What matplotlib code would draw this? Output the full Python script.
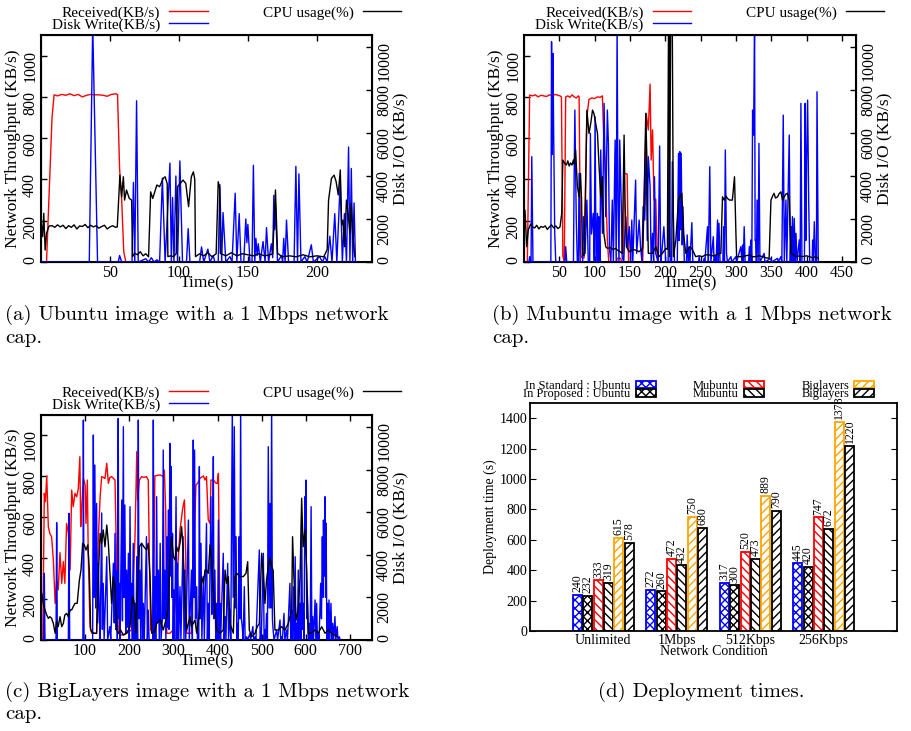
import numpy as np
import matplotlib
matplotlib.use('Agg')
import matplotlib.pyplot as plt

plt.rcParams['font.family'] = ['Liberation Serif', 'DejaVu Serif']
plt.rcParams['hatch.linewidth'] = 1.0

# ---- (a) Ubuntu, 1 Mbps : [time(s), value] ----
a_recv = np.array([
    (0, 0), (3, 0), (4, 0), (8, 700), (9.5, 810), (12, 805), (15, 812), (18, 808), (21, 815),
    (24, 806), (27, 812), (30, 800), (33, 808), (36, 812), (39, 810), (42, 810), (45, 808),
    (48, 803), (51, 812), (54, 815), (55.5, 812), (57, 450), (58.5, 300), (60, 50), (61.5, 0),
    (100, 0), (150, 0), (200, 0), (227, 0)])
a_disk = np.array([
    (0, 0), (35, 0), (37.5, 11000), (41, 0), (56, 0), (57, 300), (58.5, 0), (66, 0), (67, 3700),
    (68, 0), (69.3, 7500), (70.5, 0), (76, 150), (78, 0), (80, 200), (82, 0), (84, 100), (86, 0),
    (88, 3900), (90, 0), (93.5, 4600), (94.5, 0), (95.4, 3000), (96.4, 0), (97.8, 4000), (99, 0),
    (100.7, 4700), (102.6, 0), (105.5, 0), (106.7, 1550), (108, 0), (115, 0), (116.4, 700),
    (118, 0), (121, 600), (122.5, 0), (124.9, 300), (126, 0), (128.5, 0), (129.7, 3600), (131, 0),
    (132, 2300), (134, 0), (137, 250), (138.5, 0), (140.8, 3200), (142, 0), (143.7, 2250),
    (145, 0), (147, 0), (148.5, 2000), (149.3, 900), (150, 1750), (151.5, 0), (153, 0),
    (154, 4500), (155, 0), (155.8, 1100), (156.7, 300), (157.5, 850), (159, 0), (161, 950),
    (162.5, 0), (163.5, 1600), (165, 0), (167, 850), (168, 200), (168.8, 3100), (169.4, 1500),
    (170, 2600), (171.5, 0), (174.4, 300), (175.2, 0), (176, 1100), (177, 0), (178, 1950),
    (179.5, 0), (183.5, 0), (184.8, 4450), (186, 0), (187, 4100), (188.5, 0), (191.3, 250),
    (193, 0), (196, 800), (197.5, 0), (202, 250), (204, 0), (205.8, 250), (207.5, 0),
    (209.4, 1200), (211, 0), (213, 2250), (214.5, 0), (217, 3800), (218.5, 0), (220, 2250),
    (221.5, 0), (223, 5350), (224, 0), (225, 4350), (226, 0), (227, 2750), (228, 0)])
a_cpu = np.array([
    (0, 203), (1.2, 123), (2, 236), (3, 58), (4, 139), (5.8, 174), (8, 176), (10, 168), (12, 180),
    (14, 170), (16, 178), (18, 162), (20, 176), (22, 168), (24, 180), (26, 160), (28, 175),
    (30, 172), (32, 182), (34, 166), (36, 178), (38, 170), (40, 176), (42, 164), (44, 172),
    (46, 178), (48, 160), (50, 170), (52, 176), (54, 168), (55.3, 170), (57.2, 421), (58.5, 316),
    (59.7, 413), (60.6, 300), (62, 349), (64, 308), (65.7, 300), (66.4, 26), (68, 42), (70, 35),
    (72, 50), (74, 30), (76, 40), (78, 25), (79.5, 340), (81, 308), (84, 373), (86, 365),
    (88.6, 405), (90, 413), (91.5, 380), (92, 26), (94, 30), (96, 26), (98, 40), (99, 365),
    (101, 381), (103, 397), (105, 380), (107, 268), (109, 413), (110.5, 437), (111.5, 400),
    (112, 26), (115, 40), (118, 30), (121, 45), (124, 25), (127, 40), (128.5, 389), (129.5, 360),
    (130, 42), (134, 30), (138, 45), (142, 30), (146, 40), (150, 35), (154, 30), (158, 40),
    (162, 30), (166, 35), (168, 40), (170, 349), (171.5, 42), (175, 25), (180, 30), (185, 25),
    (190, 35), (195, 25), (200, 30), (205, 25), (207.5, 60), (208.5, 300), (210.6, 405),
    (212.5, 421), (214, 389), (215.5, 325), (217, 446), (218, 179), (219, 203), (220, 74),
    (221.5, 300), (222.7, 236), (224, 139), (225, 284), (226, 139), (227.5, 26)])

# ---- (b) Mubuntu, 1 Mbps ----
b_recv = np.array([
    (0, 0), (3, 0), (4.7, 0), (8, 809), (12, 805), (16, 810), (20, 800), (24, 808), (28, 805),
    (32, 802), (36, 810), (40, 806), (44, 812), (48, 808), (51, 805), (53, 800), (55, 30), (57, 0),
    (59, 800), (62, 805), (65, 798), (68, 810), (71, 800), (74, 795), (77, 805), (78, 800),
    (80, 42), (82, 20), (85, 20), (89, 704), (92, 788), (96, 795), (100, 792), (104, 800),
    (108, 798), (111, 805), (113, 591), (114.5, 500), (118, 107), (120, 0), (131, 0), (132, 18),
    (137, 18), (138, 0), (141, 0), (142, 430), (146, 426), (148, 0), (168, 0), (170, 300),
    (173, 720), (176, 640), (178.5, 862), (180, 494), (182, 640), (184, 300), (186.5, 305),
    (189, 0), (250, 0), (300, 0), (350, 0), (417, 0)])
b_disk = np.array([
    (0, 0), (7, 0), (8, 250), (9, 0), (10, 0), (11, 4900), (12.7, 0), (38, 0), (39, 10245),
    (40, 5000), (41, 9700), (42, 5983), (43.5, 1333), (45, 0), (58, 0), (59, 713), (60.5, 0),
    (70, 0), (71, 3968), (72, 7068), (74, 1953), (75.5, 0), (77, 0), (78, 4123), (79.5, 0),
    (83, 0), (84, 2108), (86.5, 400), (89, 2883), (91, 0), (93, 0), (94, 5983), (95.5, 1300),
    (98, 2263), (99.5, 0), (100.6, 6758), (102, 0), (104, 2263), (105, 0), (106, 2108),
    (107.5, 0), (108.6, 5208), (111, 1333), (113.4, 7378), (115.7, 2108), (118, 7068),
    (119.5, 5518), (121, 600), (123, 0), (125, 2883), (126.5, 0), (129, 5673), (130.5, 0),
    (131.8, 11000), (133, 2883), (134.5, 0), (135.5, 5673), (138, 2263), (139, 250), (141, 0),
    (144, 2108), (146.4, 700), (149, 1643), (151, 0), (152.6, 1953), (154, 0), (156, 1953),
    (158, 3813), (159.5, 400), (163, 1953), (165, 700), (167, 0), (168.6, 2573), (171, 1953),
    (173, 5208), (174.5, 1000), (176, 4898), (178.5, 3503), (180, 0), (182, 1333), (183.5, 0),
    (184.7, 3968), (186.5, 400), (190, 0), (192, 5394), (193.5, 0), (195, 400), (198, 1643),
    (200.7, 0), (204, 0), (205.5, 5440), (207, 0), (209, 0), (210, 4665), (211.6, 1953),
    (213, 0), (217, 0), (218.7, 5053), (219.5, 1000), (220.6, 5130), (221.5, 1500),
    (222.5, 5053), (224, 800), (225, 2573), (227, 0), (230, 0), (231, 1260), (232.5, 0),
    (233.8, 635), (235, 0), (237.6, 1829), (239, 0), (247, 0), (248, 250), (249, 0), (254, 0),
    (255, 170), (256, 0), (259.8, 1643), (261, 0), (263, 4433), (264.5, 0), (268, 1178),
    (269, 0), (270.6, 250), (272, 0), (274, 1953), (275, 0), (276, 1798), (277.5, 0),
    (281.5, 0), (282.5, 1643), (283.8, 0), (285, 5208), (286.7, 400), (288, 0), (293, 250),
    (294, 0), (300, 250), (301, 0), (307, 713), (308.5, 0), (309.4, 790), (310.5, 0),
    (311.7, 1643), (313, 0), (318, 0), (319, 713), (320, 0), (321, 1023), (322.5, 0),
    (323.6, 7068), (325, 5905), (326.4, 11000), (327.2, 1000), (328, 1023), (329, 0),
    (330, 2883), (331.5, 0), (332.6, 5518), (334, 0), (340, 400), (341, 0), (349.6, 170),
    (350.5, 0), (359, 170), (360, 0), (363.7, 250), (365, 0), (367, 6835), (368.5, 0),
    (370.8, 2883), (372, 0), (375.5, 5905), (377, 0), (378, 1643), (379, 0), (380, 2108),
    (381.5, 0), (382.6, 2030), (384, 0), (385, 1333), (386.5, 0), (389.7, 1023), (391, 0),
    (392, 7378), (393.5, 0), (397, 0), (398, 7378), (399, 1000), (400, 4588), (401.5, 7533),
    (403, 2883), (404.5, 0), (408, 0), (408.6, 1023), (409.5, 0), (411, 1876), (412.5, 0),
    (414, 0), (414.8, 7920), (416.6, 0)])
b_cpu = np.array([
    (0, 107), (1.4, 252), (3.8, 74), (6, 155), (9.4, 184), (12, 170), (15, 165), (18, 178),
    (21, 160), (24, 172), (27, 168), (30, 175), (33, 158), (36, 170), (39, 180), (42, 165),
    (45, 175), (48, 162), (51, 170), (53.4, 236), (55, 494), (57.6, 478), (60, 470), (62, 490),
    (64, 465), (66, 480), (68, 470), (70, 495), (71, 475), (73, 543), (75.6, 365), (78, 316),
    (80, 429), (81.5, 300), (82.6, 40), (85, 30), (87, 300), (89, 736), (92, 623), (94.5, 672),
    (97, 736), (99, 720), (101.5, 672), (104, 623), (106.3, 462), (108.6, 316), (111, 413),
    (113, 139), (115.7, 74), (118, 66), (122, 70), (126, 60), (130, 66), (132, 58), (136, 50),
    (139, 42), (141.7, 615), (143, 300), (145, 74), (149, 50), (154, 60), (158, 58), (163, 50),
    (168, 66), (170, 300), (172.4, 720), (174, 494), (175, 220), (176, 42), (182, 42),
    (186.6, 74), (191, 26), (196, 42), (200.7, 66), (203, 61), (204.5, 1100), (205.5, 1100),
    (206, 26), (207.5, 1100), (210, 1100), (211.6, 26), (215, 107), (218.7, 300), (220.6, 316),
    (223.4, 333), (225.8, 139), (229, 42), (234, 74), (237.6, 66), (243, 26), (248, 30),
    (252.7, 26), (257, 35), (262, 34), (267, 30), (271.6, 34), (275, 40), (278.7, 42),
    (281, 316), (283.4, 300), (286, 320), (288, 308), (291, 300), (295, 300), (298, 413),
    (300, 139), (301, 26), (309, 26), (314, 30), (319, 34), (323, 25), (328, 26), (333, 30),
    (337.7, 26), (343, 20), (347, 18), (349.6, 300), (352, 320), (354, 333), (356, 310),
    (359, 316), (361, 330), (363.7, 340), (366, 300), (368.4, 316), (371, 330), (373, 333),
    (375.5, 300), (378, 42), (385, 26), (390, 30), (394.4, 26), (400, 30), (404, 26), (409, 20),
    (413, 26), (416.6, 18)])

# ---- (c) BigLayers, 1 Mbps ----
c_recv = np.array([
    (0, 0), (4, 0), (7.5, 717), (10, 676), (13, 802), (16.6, 554), (20, 521), (24, 505),
    (28, 391), (32, 179), (35.5, 293), (39, 245), (43, 427), (47, 277), (50.6, 383), (54, 277),
    (58, 570), (62, 521), (66, 342), (69.5, 733), (73, 652), (77, 717), (81, 700), (84.6, 741),
    (88, 896), (90, 554), (92, 636), (96, 790), (100, 758), (102, 570), (105, 782), (107, 424),
    (111, 65), (115, 33), (126, 33), (130, 505), (134, 700), (137.5, 799), (141, 795),
    (145, 790), (149, 864), (152.6, 766), (156, 795), (160, 799), (164, 790), (167.7, 782),
    (171.5, 342), (175, 33), (183, 24), (194, 33), (205, 49), (213, 505), (217, 921), (219, 685),
    (223, 782), (228, 799), (233, 795), (239, 799), (243, 782), (245.5, 408), (248.5, 49),
    (254.5, 33), (258, 802), (264, 805), (270, 807), (277, 799), (279.5, 831), (282.5, 636),
    (285, 33), (292, 33), (300, 49), (307, 260), (315, 538), (321, 643), (325, 685), (328, 408),
    (330, 33), (341, 33), (351, 758), (355, 766), (360, 790), (368, 802), (371.6, 782),
    (375, 799), (379, 587), (383, 570), (385, 782), (390.5, 782), (396.5, 766), (399.5, 766),
    (402, 815), (405.6, 33), (408, 0), (500, 0), (600, 0), (672, 0)])
c_disk = np.array([
    (0, 0), (6, 0), (7.5, 3128), (9, 0), (34, 0), (35.5, 5505), (37, 0), (62, 0), (63.4, 5943),
    (65, 0), (95, 0), (96, 10322), (97.5, 0), (117, 0), (118.6, 9619), (120, 2000), (122, 8211),
    (124, 1500), (126, 6412), (128, 800), (130, 3600), (132, 1400), (134, 0), (137.5, 5960),
    (139, 500), (141, 2660), (143, 0), (149, 3910), (151, 0), (156, 630), (158, 0), (164, 3600),
    (166, 800), (167.7, 5005), (169.5, 500), (171.5, 3280), (173, 0), (175, 10400),
    (176.3, 1000), (177.5, 2660), (179, 0), (183, 6570), (184.5, 900), (186.6, 10009),
    (188, 2000), (190, 6334), (192, 300), (194, 3280), (196, 600), (198, 4070), (200, 0),
    (201.7, 6256), (203.5, 1000), (205.4, 2660), (207, 0), (209, 4535), (211, 0), (213, 1720),
    (215, 0), (217, 3910), (218.8, 0), (220.5, 10322), (222, 1000), (224, 3280), (226, 0),
    (228, 4535), (230, 0), (232, 1720), (234, 0), (239, 4850), (241, 0), (243, 1400), (245, 0),
    (253, 0), (254.5, 10322), (256, 0), (258, 2970), (260, 0), (262, 6725), (264, 800),
    (266, 3280), (268, 0), (270, 4535), (272, 0), (275, 1000), (277, 8914), (279, 1000),
    (281, 3280), (283, 0), (285, 4848), (286.8, 600), (288.5, 6100), (290, 500), (292, 9228),
    (293.5, 3000), (295, 8133), (296.5, 2000), (298, 5000), (299.5, 0), (301, 2350), (303, 0),
    (306, 6725), (308, 0), (310, 3600), (312, 0), (315, 2500), (317, 0), (322, 4850), (324, 0),
    (326, 3280), (328, 0), (334, 5630), (336, 0), (341, 3280), (343, 0), (345, 9384),
    (346.5, 2000), (348, 8914), (350, 1000), (352.7, 2500), (354.5, 0), (357.5, 0),
    (358.8, 8133), (360.5, 1000), (362.5, 4535), (364.5, 0), (368, 2970), (370, 0), (375, 5475),
    (377, 0), (379, 1720), (381, 0), (385, 6725), (387, 1200), (388.5, 4000), (390.5, 8602),
    (392, 1000), (394, 3280), (396, 0), (398, 1720), (400, 0), (402, 5630), (404, 0),
    (405.6, 1720), (407, 0), (413, 4070), (415, 0), (417, 1100), (419, 0), (423, 3597),
    (425, 0), (428, 1400), (430, 0), (433.5, 11000), (435.5, 2000), (438, 10009), (440, 1500),
    (442, 4848), (443.8, 0), (445.6, 780), (447, 0), (449, 4848), (450.5, 1000), (452.4, 11000),
    (454, 1000), (456, 630), (458, 0), (460.7, 2500), (462.5, 0), (466, 150), (468, 0),
    (473.5, 300), (475, 0), (480, 630), (482, 0), (485, 150), (487, 0), (494.7, 4223),
    (496.5, 0), (497.7, 150), (499, 0), (503.8, 4070), (505.5, 0), (507.5, 470), (509, 0),
    (511, 1250), (513, 0), (515, 9071), (517, 1500), (519, 6412), (520.8, 1500), (522.6, 11000),
    (524.3, 1000), (526, 470), (528, 0), (534, 470), (536, 0), (541.6, 940), (543, 0),
    (545, 150), (547, 0), (550.6, 1250), (552.5, 0), (556.6, 470), (558.5, 0), (564, 2660),
    (566, 0), (568, 1400), (570, 0), (571.8, 2500), (574, 0), (576, 3910), (577.5, 0),
    (579, 780), (581, 0), (583, 3280), (585, 0), (587, 1720), (588.8, 0), (590.6, 5787),
    (592.3, 500), (594, 1720), (596, 0), (598, 6725), (599.2, 5000), (600.4, 7507),
    (602, 1000), (603.5, 2035), (605.5, 0), (608, 780), (610, 0), (612, 6256), (613.8, 0),
    (615.6, 1100), (617.5, 0), (621, 1880), (622.8, 0), (624.6, 1720), (626.3, 0), (628, 300),
    (630, 0), (633.7, 2660), (635.5, 1000), (637.5, 4848), (638.8, 2000), (640, 5630),
    (641.8, 3000), (643.5, 6725), (644.8, 2000), (646, 5475), (647.8, 0), (649.5, 1720),
    (651, 0), (652.6, 1880), (654.5, 0), (657, 1720), (659, 0), (661, 780), (663, 0),
    (666, 1100), (668, 0), (671, 630), (673, 0), (676, 150), (678, 0)])
c_cpu = np.array([
    (0, 179), (2, 228), (5, 179), (9, 147), (13, 122), (16.6, 106), (20, 114), (24, 106),
    (28, 81), (32, 33), (35.5, 90), (39, 65), (43, 114), (47, 65), (50.6, 81), (54, 122),
    (58, 130), (62, 114), (66, 147), (69.5, 147), (73, 163), (77, 179), (82, 179), (87, 293),
    (90.6, 342), (94.4, 473), (98, 465), (102, 440), (106, 465), (109.5, 342), (112.5, 49),
    (118.6, 33), (126, 33), (130.7, 358), (134, 521), (137.5, 473), (141, 538), (145, 456),
    (149, 562), (152.6, 473), (156, 342), (160, 179), (164, 310), (167.7, 261), (171.5, 49),
    (175, 33), (180.5, 49), (186.6, 24), (194, 33), (201.7, 65), (207.7, 212), (211.5, 179),
    (215, 33), (219, 261), (223, 456), (228, 473), (233, 456), (239, 440), (243, 473),
    (247, 310), (250.7, 33), (258, 41), (262, 81), (270, 98), (277, 49), (285, 114),
    (288.5, 179), (292, 408), (296, 505), (300, 408), (303.6, 391), (307, 456), (311, 432),
    (315, 473), (318.6, 554), (322, 440), (326, 212), (330, 49), (337.6, 114), (341, 65),
    (345, 81), (349, 98), (352.7, 33), (358.8, 130), (364, 310), (368, 277), (371.6, 342),
    (375, 342), (379, 326), (383, 465), (386.7, 391), (390.5, 245), (394, 147), (398, 49),
    (405.6, 33), (413, 49), (417, 342), (420.7, 277), (424.5, 310), (428, 81), (435.8, 33),
    (439.6, 310), (443.3, 326), (451, 310), (458.5, 310), (464.5, 326), (468.3, 383), (472, 49),
    (477.3, 16), (485, 33), (490, 65), (494.7, 81), (500, 424), (503.8, 326), (507.5, 179),
    (511, 293), (515, 358), (519, 400), (522.6, 358), (526, 342), (530, 49), (537.7, 49),
    (545, 65), (552.9, 49), (560.4, 81), (568, 147), (570, 505), (573, 310), (578, 98),
    (583, 147), (587, 310), (590.6, 693), (594, 456), (598, 538), (602, 342), (605.7, 33),
    (613, 33), (621, 49), (628, 33), (636, 65), (643.5, 33), (651, 49), (658.6, 33), (666, 24),
    (671, 16)])

# ---- (d) deployment times ----
conditions = ['Unlimited', '1Mbps', '512Kbps', '256Kbps']
std_ubuntu = [240, 272, 317, 445]
prop_ubuntu = [232, 260, 300, 420]
std_mubuntu = [333, 472, 520, 747]
prop_mubuntu = [319, 432, 473, 672]
std_big = [615, 750, 889, 1378]
prop_big = [578, 680, 790, 1220]

W, H = 912, 731
fig = plt.figure(figsize=(W / 100, H / 100), dpi=100)


def px_rect(x0, y0, x1, y1):
    return [x0 / W, 1 - y1 / H, (x1 - x0) / W, (y1 - y0) / H]


def trace_panel(rect, recv, disk, cpu, xmax, xticks):
    ax = fig.add_axes(rect)
    ax2 = ax.twinx()
    ax3 = ax.twinx()
    l1, = ax.plot(recv[:, 0], recv[:, 1], color='#ff0000', lw=1.0, label='Received(KB/s)')
    l2, = ax2.plot(disk[:, 0], disk[:, 1], color='#0000ff', lw=1.0, label='Disk Write(KB/s)')
    l3, = ax3.plot(cpu[:, 0], cpu[:, 1], color='black', lw=1.0, label='CPU usage(%)')
    ax.set_xlim(0, xmax)
    ax.set_ylim(0, 1100)
    ax3.set_ylim(0, 1100)
    ax2.set_ylim(0, 10560)
    ax3.axis('off')
    ax.set_xticks(xticks)
    ax.set_yticks(range(0, 1001, 200))
    ax2.set_yticks(range(0, 10001, 2000))
    ax.tick_params(direction='in', top=True, length=4, width=1, labelsize=11.5, pad=2)
    ax.tick_params(axis='y', labelrotation=90)
    ax2.tick_params(direction='in', length=4, width=1, labelsize=11.5, labelrotation=90, pad=3)
    for sp in ax.spines.values():
        sp.set_linewidth(1.5)
    ax.set_xlabel('Time(s)', fontsize=12.5, labelpad=-4)
    ax.set_ylabel('Network Throughput (KB/s)', fontsize=12.5, labelpad=1)
    ax2.set_ylabel('Disk I/O (KB/s)', fontsize=12.5, labelpad=0)
    ax.legend([l1, l2, l3], [l1.get_label(), l2.get_label(), l3.get_label()],
              ncol=2, markerfirst=False, frameon=False, loc='lower center',
              bbox_to_anchor=(0.56, 0.98), fontsize=11, handlelength=2.5,
              labelspacing=-0.1, columnspacing=3.6, borderpad=0, handletextpad=0.6)
    return ax


trace_panel(px_rect(41, 35, 372, 262), a_recv, a_disk, a_cpu, 240, [50, 100, 150, 200])
trace_panel(px_rect(524, 35, 856, 262), b_recv, b_disk, b_cpu, 470,
            [50, 100, 150, 200, 250, 300, 350, 400, 450])
trace_panel(px_rect(41, 415, 372, 640), c_recv, c_disk, c_cpu, 750,
            [100, 200, 300, 400, 500, 600, 700])

# bar chart
axd = fig.add_axes(px_rect(530, 403, 897, 631))
x = np.arange(len(conditions))
pitch = 0.141
width = 0.123
series = [
    (std_ubuntu, '#0000ff', 'xxxx', 'In Standard : Ubuntu'),
    (prop_ubuntu, 'black', 'xxxx', 'In Proposed : Ubuntu'),
    (std_mubuntu, '#ff0000', '\\\\\\\\', 'Mubuntu'),
    (prop_mubuntu, 'black', '\\\\\\\\', 'Mubuntu'),
    (std_big, '#ffa500', '////', 'Biglayers'),
    (prop_big, 'black', '////', 'Biglayers'),
]
handles = []
for i, (vals, col, hatch, lab) in enumerate(series):
    bars = axd.bar(x + (i - 2.5) * pitch, vals, width, facecolor='white', edgecolor=col,
                   hatch=hatch, linewidth=1.3, label=lab)
    axd.bar_label(bars, rotation=90, padding=2, fontsize=8.5)
    handles.append(bars)
axd.set_xlim(-1, 4)
axd.set_ylim(0, 1500)
axd.set_yticks(range(0, 1401, 200))
axd.set_xticks(x)
axd.set_xticklabels(conditions)
axd.tick_params(axis='y', direction='in', right=True, length=4, labelsize=10, pad=2)
axd.tick_params(axis='x', length=0, labelsize=10, pad=2)
for sp in axd.spines.values():
    sp.set_linewidth(1.3)
axd.set_xlabel('Network Condition', fontsize=10, labelpad=-1)
axd.set_ylabel('Deployment time (s)', fontsize=10, labelpad=2)
axd.legend(handles, [s[3] for s in series], ncol=3, markerfirst=False, frameon=False,
           loc='lower center', bbox_to_anchor=(0.46, 0.985), fontsize=9,
           handlelength=1.6, handleheight=0.6, labelspacing=-0.3, columnspacing=3.0,
           borderpad=0, handletextpad=0.4)

# captions
cap = dict(family='cmr10', fontsize=15, va='center')
fig.text(5 / W, 1 - 315 / H, '(a) Ubuntu image with a 1 Mbps network', **cap)
fig.text(5 / W, 1 - 338 / H, 'cap.', **cap)
fig.text(492 / W, 1 - 315 / H, '(b) Mubuntu image with a 1 Mbps network', **cap)
fig.text(492 / W, 1 - 338 / H, 'cap.', **cap)
fig.text(5 / W, 1 - 692 / H, '(c) BigLayers image with a 1 Mbps network', **cap)
fig.text(5 / W, 1 - 714 / H, 'cap.', **cap)
fig.text(598 / W, 1 - 692 / H, '(d) Deployment times.', **cap)

fig.savefig('out.png', dpi=100)
